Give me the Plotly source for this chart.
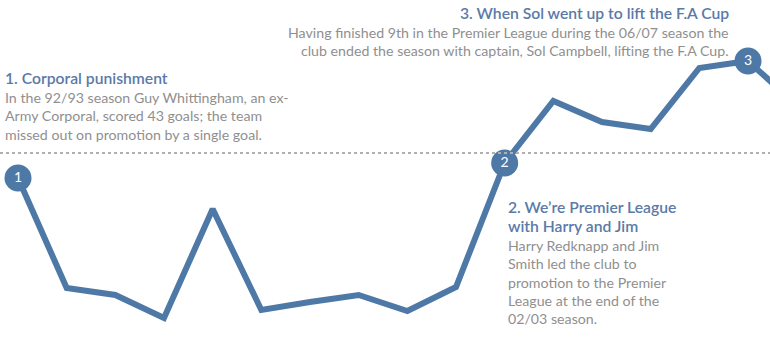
import plotly.graph_objects as go

seasons = ["92/93", "93/94", "94/95", "95/96", "96/97", "97/98", "98/99", "99/00",
           "00/01", "01/02", "02/03", "03/04", "04/05", "05/06", "06/07", "07/08", "08/09"]
values = [159, 49, 42, 19, 128, 27, 35, 42, 26, 50, 174, 236, 215, 208, 269, 276, 232]
reference_value = 184
milestone_idx = [0, 10, 15]
milestone_labels = ["1", "2", "3"]

W, H = 770, 337
BLUE = "#4e79a7"
TITLE = "#5a7aa8"
BODY = "#8f8f8f"
FONT = "Lato"

fig = go.Figure()
fig.add_trace(go.Scatter(x=list(range(len(values))), y=values, mode="lines",
                         line=dict(color=BLUE, width=6), hoverinfo="skip"))
fig.add_trace(go.Scatter(x=milestone_idx, y=[values[i] for i in milestone_idx],
                         mode="markers+text", text=milestone_labels,
                         textposition="middle center",
                         textfont=dict(color="white", size=14, family=FONT),
                         marker=dict(size=27, color=BLUE), hoverinfo="skip"))
fig.add_hline(y=reference_value, line=dict(color="#b0b0b0", width=2, dash="dot"))

def px(x, y):
    return x / W, 1 - y / H

blocks = [
    # (x, y_top, anchor, title lines, body lines)
    (3, 67, "left", ["1. Corporal punishment"],
     ["In the 92/93 season Guy Whittingham, an ex-",
      "Army Corporal, scored 43 goals; the team",
      "missed out on promotion by a single goal."]),
    (731, 2, "right", ["3. When Sol went up to lift the F.A Cup"],
     ["Having finished 9th in the Premier League during the 06/07 season the",
      "club ended the season with captain, Sol Campbell, lifting the F.A Cup."]),
    (506, 196, "left", ["2. We\u2019re Premier League", "with Harry and Jim"],
     ["Harry Redknapp and Jim", "Smith led the club to", "promotion to the Premier",
      "League at the end of the", "02/03 season."]),
]
for x, y, anch, tlines, blines in blocks:
    yy = y
    for t in tlines:
        ax, ay = px(x, yy)
        fig.add_annotation(x=ax, y=ay, xref="paper", yref="paper", text=t, showarrow=False,
                           xanchor=anch, yanchor="top",
                           font=dict(family=FONT, size=15.7, color=TITLE, weight=600))
        yy += 19
    yy += 1
    for b in blines:
        ax, ay = px(x, yy)
        fig.add_annotation(x=ax, y=ay, xref="paper", yref="paper", text=b, showarrow=False,
                           xanchor=anch, yanchor="top",
                           font=dict(family=FONT, size=14.2, color=BODY))
        yy += 18.3

step = (748 - 18) / 15
x0 = -18 / step
fig.update_layout(
    width=W, height=H, margin=dict(l=0, r=0, t=0, b=0),
    plot_bgcolor="white", paper_bgcolor="white", showlegend=False,
    xaxis=dict(range=[x0, x0 + W / step], visible=False),
    yaxis=dict(range=[0, H], visible=False),
)
fig.write_html("out.html")
